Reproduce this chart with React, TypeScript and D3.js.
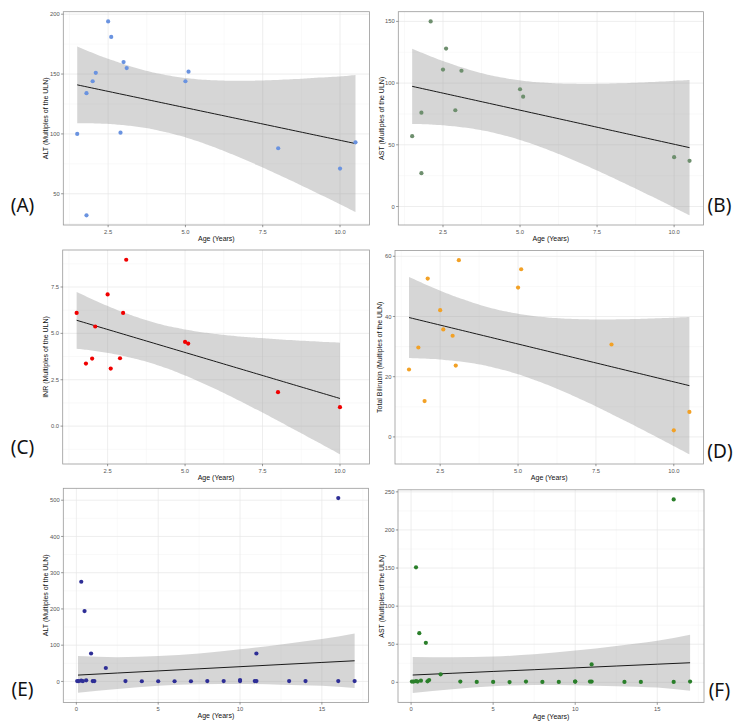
import * as d3 from "d3";

// ages (years) and lab values per panel
const ageA = [1.5, 1.8, 1.8, 2.0, 2.1, 2.5, 2.6, 2.9, 3.0, 3.1, 5.0, 5.1, 8.0, 10.0, 10.5];
const altA = [100, 134, 32, 144, 151, 194, 181, 101, 160, 155, 144, 152, 88, 71, 93];

const ageB = [1.5, 1.8, 1.8, 2.1, 2.5, 2.6, 2.9, 3.1, 5.0, 5.1, 10.0, 10.5];
const astB = [57, 76, 27, 150, 111, 128, 78, 110, 95, 89, 40, 37];

// last patient has no INR value (still counted on the age axis)
const ageC = [1.5, 1.8, 2.0, 2.1, 2.5, 2.6, 2.9, 3.0, 3.1, 5.0, 5.1, 8.0, 10.0, 10.5];
const inrC = [6.1, 3.37, 3.64, 5.37, 7.1, 3.1, 3.66, 6.1, 8.97, 4.54, 4.45, 1.83, 1.02, null];

const ageD = [1.5, 1.8, 2.0, 2.1, 2.5, 2.6, 2.9, 3.0, 3.1, 5.0, 5.1, 8.0, 10.0, 10.5];
const tbilD = [22.4, 29.7, 11.9, 52.6, 42.1, 35.7, 33.6, 23.7, 58.7, 49.6, 55.7, 30.7, 2.2, 8.3];

const ageEF = [0.05, 0.15, 0.3, 0.3, 0.4, 0.5, 0.6, 0.9, 1.0, 1.1, 1.8, 3, 4, 5, 6, 7, 8, 9, 10, 10, 10.9, 11, 11, 13, 14, 16, 16, 17];
const altE = [1, 1, 2, 275, 1, 194, 3, 77, 1, 1, 37, 1, 0.5, 0.5, 0.5, 0.5, 1, 1, 1, 4, 1, 1, 77, 1, 1, 1, 506, 1];
const astF = [1, 1, 1.5, 151, 1, 64.5, 2.2, 51.8, 1.3, 3, 10.5, 1, 0.5, 0.5, 0.3, 1, 0.5, 0.5, 1, 1, 1, 1, 23.5, 0.5, 0.5, 0.5, 240, 1];

// E and F: many overlapping points near zero, so the fitted line and its band
// are read off the figure instead of refitted
const fitAgeEF = [0.1, 2.5, 5, 7.5, 10, 12.5, 15, 17];
const fitE = [17.5, 23.2, 29.0, 34.9, 40.7, 46.6, 52.4, 57.0];
const fitLoE = [-31, -21, -12, -7.5, -7, -9, -12, -18.4];
const fitHiE = [70, 67, 70, 77, 88.5, 102, 117, 132.4];
const fitF = [9.6, 11.9, 14.3, 16.6, 19.0, 21.4, 23.8, 25.7];
const fitLoF = [-13.9, -9.0, -5.2, -3.5, -3.7, -5.0, -6.9, -11.1];
const fitHiF = [33.1, 32.8, 33.8, 36.7, 41.7, 47.8, 54.5, 62.5];

// axis breaks
const xTicksShort = [2.5, 5.0, 7.5, 10.0];
const xTicksLong = [0, 5, 10, 15];
const yTicksA = [50, 100, 150, 200];
const yTicksB = [0, 50, 100, 150];
const yTicksC = [0, 2.5, 5.0, 7.5];
const yTicksD = [0, 20, 40, 60];
const yTicksE = [0, 100, 200, 300, 400, 500];
const yTicksF = [0, 50, 100, 150, 200, 250];

type Band = { x: number; f: number; lo: number; hi: number }[];

const readBand = (xs: number[], f: number[], lo: number[], hi: number[]): Band =>
  xs.map((x, i) => ({ x, f: f[i], lo: lo[i], hi: hi[i] }));

const panels = [
  { tag: "(A)", ylab: "ALT (Multiples of the ULN)", x: ageA, y: altA, color: "#6a93e0",
    xTicks: xTicksShort, yTicks: yTicksA, xFmt: ".1f", yFmt: "d", band: null as Band | null,
    box: { l: 63.3, r: 369.4, t: 11.7, b: 225 }, ylabX: 45, tagX: 22.5, tagY: 205 },
  { tag: "(B)", ylab: "AST (Multiples of the ULN)", x: ageB, y: astB, color: "#6e8f6e",
    xTicks: xTicksShort, yTicks: yTicksB, xFmt: ".1f", yFmt: "d", band: null,
    box: { l: 398.3, r: 703.4, t: 11.7, b: 225 }, ylabX: 381, tagX: 719.5, tagY: 205 },
  { tag: "(C)", ylab: "INR (Multiples of the ULN)", x: ageC, y: inrC, color: "#f00000",
    xTicks: xTicksShort, yTicks: yTicksC, xFmt: ".1f", yFmt: ".1f", band: null,
    box: { l: 62.7, r: 369.4, t: 250, b: 464 }, ylabX: 45, tagX: 22.5, tagY: 447 },
  { tag: "(D)", ylab: "Total Bilirubin (Multiples of the ULN)", x: ageD, y: tbilD, color: "#f2a126",
    xTicks: xTicksShort, yTicks: yTicksD, xFmt: ".1f", yFmt: "d", band: null,
    box: { l: 395, r: 703.4, t: 250.5, b: 464 }, ylabX: 379.5, tagX: 720, tagY: 451 },
  { tag: "(E)", ylab: "ALT (Multiples of the ULN)", x: ageEF, y: altE, color: "#2e2e96",
    xTicks: xTicksLong, yTicks: yTicksE, xFmt: "d", yFmt: "d",
    band: readBand(fitAgeEF, fitE, fitLoE, fitHiE),
    box: { l: 63.3, r: 368.5, t: 488.3, b: 702.4 }, ylabX: 45, tagX: 22.5, tagY: 689 },
  { tag: "(F)", ylab: "AST (Multiples of the ULN)", x: ageEF, y: astF, color: "#2a7f2a",
    xTicks: xTicksLong, yTicks: yTicksF, xFmt: "d", yFmt: "d",
    band: readBand(fitAgeEF, fitF, fitLoF, fitHiF),
    box: { l: 398, r: 704, t: 489.8, b: 702.6 }, ylabX: 381, tagX: 719.5, tagY: 690 },
];

// two-sided 95% t quantile (Cornish-Fisher expansion)
function tq(df: number) {
  const z = 1.959964;
  const z3 = z ** 3, z5 = z ** 5, z7 = z ** 7;
  return z + (z3 + z) / (4 * df) + (5 * z5 + 16 * z3 + 3 * z) / (96 * df ** 2) +
    (3 * z7 + 19 * z5 + 17 * z3 - 15 * z) / (384 * df ** 3);
}

// linear fit with 95% confidence band, like geom_smooth(method = "lm")
function lmBand(pts: [number, number][]): Band {
  const n = pts.length;
  const mx = d3.mean(pts, (p) => p[0])!;
  const my = d3.mean(pts, (p) => p[1])!;
  const sxx = d3.sum(pts, (p) => (p[0] - mx) ** 2);
  const sxy = d3.sum(pts, (p) => (p[0] - mx) * (p[1] - my));
  const b = sxy / sxx;
  const a = my - b * mx;
  const sse = d3.sum(pts, (p) => (p[1] - a - b * p[0]) ** 2);
  const s = Math.sqrt(sse / (n - 2));
  const t = tq(n - 2);
  const [x0, x1] = d3.extent(pts, (p) => p[0]) as [number, number];
  return d3.range(80).map((i) => {
    const x = x0 + ((x1 - x0) * i) / 79;
    const f = a + b * x;
    const se = s * Math.sqrt(1 / n + (x - mx) ** 2 / sxx);
    return { x, f, lo: f - t * se, hi: f + t * se };
  });
}

function expand([a, b]: number[]) {
  const d = (b - a) * 0.05;
  return [a - d, b + d];
}

function minors(ticks: number[], dom: number[]) {
  const step = ticks[1] - ticks[0];
  const out: number[] = [];
  for (let i = -1; i < ticks.length; i++) {
    const v = ticks[0] + step * i + step / 2;
    if (v >= dom[0] && v <= dom[1]) out.push(v);
  }
  return out;
}

const TICK_FONT = "'Liberation Sans', Arial, sans-serif";

function Panel({ p }: { p: (typeof panels)[number] }) {
  const pts = p.x
    .map((x, i) => [x, p.y[i]] as [number, number | null])
    .filter((q) => q[1] != null) as [number, number][];
  const band = p.band ?? lmBand(pts);
  const { l, r, t, b } = p.box;
  const xDom = expand(d3.extent(p.x) as number[]);
  const yVals = [...pts.map((q) => q[1]), ...band.map((q) => q.lo), ...band.map((q) => q.hi)];
  const yDom = expand(d3.extent(yVals) as number[]);
  const xs = d3.scaleLinear().domain(xDom).range([l, r]);
  const ys = d3.scaleLinear().domain(yDom).range([b, t]);
  const area = d3
    .area<Band[number]>()
    .curve(d3.curveMonotoneX)
    .x((d) => xs(d.x))
    .y0((d) => ys(d.lo))
    .y1((d) => ys(d.hi));
  const line = d3.line<Band[number]>().x((d) => xs(d.x)).y((d) => ys(d.f));
  const xf = d3.format(p.xFmt);
  const yf = d3.format(p.yFmt);
  const cy = (t + b) / 2;

  return (
    <g>
      <rect x={l} y={t} width={r - l} height={b - t} fill="#fff" />
      {minors(p.xTicks, xDom).map((v) => (
        <line key={"mx" + v} x1={xs(v)} x2={xs(v)} y1={t} y2={b} stroke="#f3f3f3" strokeWidth={0.5} />
      ))}
      {minors(p.yTicks, yDom).map((v) => (
        <line key={"my" + v} x1={l} x2={r} y1={ys(v)} y2={ys(v)} stroke="#f3f3f3" strokeWidth={0.5} />
      ))}
      {p.xTicks.map((v) => (
        <line key={"gx" + v} x1={xs(v)} x2={xs(v)} y1={t} y2={b} stroke="#e6e6e6" strokeWidth={0.7} />
      ))}
      {p.yTicks.map((v) => (
        <line key={"gy" + v} x1={l} x2={r} y1={ys(v)} y2={ys(v)} stroke="#e6e6e6" strokeWidth={0.7} />
      ))}
      <path d={area(band) ?? ""} fill="#999999" fillOpacity={0.4} />
      <path d={line(band) ?? ""} fill="none" stroke="#1a1a1a" strokeWidth={1} />
      {pts.map((q, i) => (
        <circle key={i} cx={xs(q[0])} cy={ys(q[1])} r={2.1} fill={p.color} />
      ))}
      <rect x={l} y={t} width={r - l} height={b - t} fill="none" stroke="#999" strokeWidth={0.8} />
      {p.xTicks.map((v) => (
        <g key={"tx" + v}>
          <line x1={xs(v)} x2={xs(v)} y1={b} y2={b + 2.2} stroke="#555" strokeWidth={0.6} />
          <text x={xs(v)} y={b + 8.8} textAnchor="middle" fontFamily={TICK_FONT} fontSize={5.8} fill="#555">
            {xf(v)}
          </text>
        </g>
      ))}
      {p.yTicks.map((v) => (
        <g key={"ty" + v}>
          <line x1={l - 2.2} x2={l} y1={ys(v)} y2={ys(v)} stroke="#555" strokeWidth={0.6} />
          <text x={l - 3.6} y={ys(v) + 2.1} textAnchor="end" fontFamily={TICK_FONT} fontSize={5.8} fill="#555">
            {yf(v)}
          </text>
        </g>
      ))}
      <text x={(l + r) / 2} y={b + 16} textAnchor="middle" fontFamily={TICK_FONT} fontSize={7} fill="#111">
        Age (Years)
      </text>
      <text
        transform={`translate(${p.ylabX},${cy}) rotate(-90)`}
        y={2.5}
        textAnchor="middle"
        fontFamily={TICK_FONT}
        fontSize={7}
        fill="#111"
      >
        {p.ylab}
      </text>
      <text x={p.tagX} y={p.tagY + 7} textAnchor="middle" fontFamily="'Noto Sans', sans-serif" fontSize={19} fill="#111">
        {p.tag}
      </text>
    </g>
  );
}

export default function App() {
  return (
    <div style={{ position: "absolute", left: 0, top: 0 }}>
      <svg width={750} height={724} style={{ display: "block", background: "#fff" }}>
        {panels.map((p) => (
          <Panel key={p.tag} p={p} />
        ))}
      </svg>
    </div>
  );
}
